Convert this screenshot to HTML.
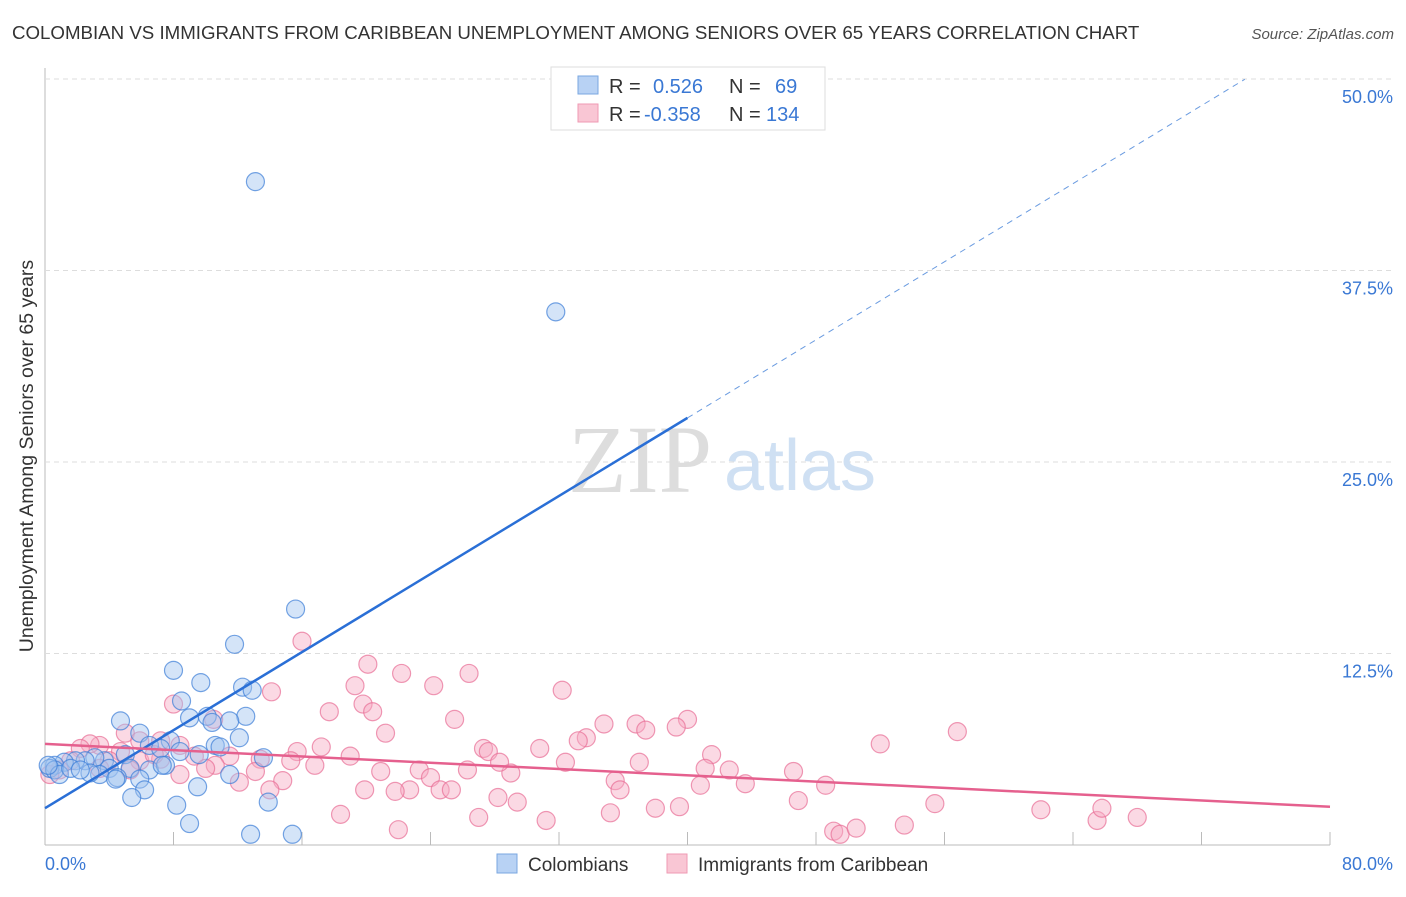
<!DOCTYPE html>
<html><head><meta charset="utf-8"><style>
body{margin:0;background:#fff;font-family:"Liberation Sans",sans-serif;}
</style></head><body>
<svg id="c" width="1406" height="892" xmlns="http://www.w3.org/2000/svg">
<text x="12" y="39" font-size="18.7" fill="#333">COLOMBIAN VS IMMIGRANTS FROM CARIBBEAN UNEMPLOYMENT AMONG SENIORS OVER 65 YEARS CORRELATION CHART</text>
<text x="1394" y="39" font-size="15" fill="#555" font-style="italic" text-anchor="end">Source: ZipAtlas.com</text>
<g id="grid"></g>
<text x="640" y="492" font-size="96" fill="#ddd" font-family="Liberation Serif" text-anchor="middle">ZIP</text>
<text x="800" y="490" font-size="72" fill="#cfe0f3" text-anchor="middle">atlas</text>
<g id="pts"></g>
<g id="lines"></g>
<text transform="translate(33,456) rotate(-90)" font-size="19.5" fill="#333" text-anchor="middle">Unemployment Among Seniors over 65 years</text>
<text x="45" y="870" font-size="18" fill="#3a78d4">0.0%</text>
<text x="1393" y="870" font-size="18" fill="#3a78d4" text-anchor="end">80.0%</text>
<g>
<rect x="551" y="67" width="274" height="63" fill="#fff" stroke="#ddd"/>
<rect x="578" y="76" width="20" height="18" fill="#b8d2f4" stroke="#7aa7e0"/>
<rect x="578" y="104" width="20" height="18" fill="#f9c6d4" stroke="#ef9ab3"/>
<text x="609" y="93" font-size="20" fill="#333">R = <tspan fill="#3a78d4" x="653">0.526</tspan><tspan x="729" fill="#333">N =</tspan><tspan x="775" fill="#3a78d4">69</tspan></text>
<text x="609" y="121" font-size="20" fill="#333">R = <tspan fill="#3a78d4" x="644">-0.358</tspan><tspan x="729" fill="#333">N =</tspan><tspan x="766" fill="#3a78d4">134</tspan></text>
</g>
<g>
<rect x="497" y="854" width="20" height="19" fill="#b8d2f4" stroke="#7aa7e0"/>
<text x="528" y="871" font-size="19" fill="#333">Colombians</text>
<rect x="667" y="854" width="20" height="19" fill="#f9c6d4" stroke="#ef9ab3"/>
<text x="698" y="871" font-size="19" fill="#333">Immigrants from Caribbean</text>
</g>
</svg>
<script>
const yTicks=[12.5,25,37.5,50];
const yTickLabels=["12.5%","25.0%","37.5%","50.0%"];
const xTicks=[0,8,16,24,32,40,48,56,64,72,80];
const blueX=[13.1,31.8,15.6,11.8,8.0,9.7,8.5,12.3,12.9,9.0,10.1,12.5,4.7,11.5,5.9,10.4,7.8,12.1,13.6,10.6,10.9,6.5,7.2,8.4,9.6,5.0,3.7,3.1,2.5,1.9,1.2,0.6,0.3,4.0,5.3,6.5,7.5,3.4,2.8,4.5,5.9,11.5,9.5,4.4,6.2,5.4,8.2,13.9,9.0,12.8,15.4,0.6,0.9,0.2,1.6,2.2,7.3];
const blueY=[43.3,34.8,15.4,13.1,11.4,10.6,9.4,10.3,10.1,8.3,8.4,8.4,8.1,8.1,7.3,8.0,6.8,7.0,5.7,6.5,6.4,6.5,6.3,6.1,5.9,5.9,5.5,5.7,5.5,5.5,5.4,5.2,5.0,5.0,5.0,4.9,5.2,4.6,4.7,4.4,4.3,4.6,3.8,4.3,3.6,3.1,2.6,2.8,1.4,0.7,0.7,4.9,4.6,5.2,5.0,4.9,5.2];
const pinkX=[16.0,20.1,22.2,26.4,19.3,24.2,32.2,14.1,8.0,19.8,17.7,20.4,40.0,25.5,34.8,36.8,39.3,10.5,21.2,37.4,56.8,52.0,30.8,27.3,27.6,41.5,33.7,33.2,32.4,37.0,17.2,15.7,19.0,8.4,7.2,5.0,3.4,5.9,9.3,11.5,13.4,15.3,16.8,20.9,23.3,24.0,26.3,29.0,28.3,41.1,42.6,46.6,48.6,43.6,40.8,35.5,35.8,38.0,39.5,35.2,28.2,29.4,24.6,25.3,22.7,21.8,19.9,14.8,14.0,12.1,13.1,10.6,10.0,8.4,18.4,27.0,31.2,22.0,49.1,49.5,50.5,53.5,55.4,62.0,65.5,65.8,68.0,46.9,7.2,5.9,4.7,2.8,2.2,1.6,0.9,0.3,4.0,5.3,3.4,6.8];
const pinkY=[13.3,11.8,11.2,11.2,10.4,10.4,10.1,10.0,9.2,9.2,8.7,8.7,8.2,8.2,7.9,7.9,7.7,8.2,7.3,7.5,7.4,6.6,6.3,6.3,6.1,5.9,7.0,6.8,5.4,5.4,6.4,6.1,5.8,6.5,6.8,7.3,6.5,6.8,5.8,5.8,5.6,5.5,5.2,4.8,4.9,4.4,4.9,4.7,5.4,5.0,4.9,4.8,3.9,4.0,3.9,4.2,3.6,2.4,2.5,2.1,3.1,2.8,3.6,3.6,3.6,3.5,3.6,4.2,3.6,4.1,4.8,5.2,5.0,4.6,2.0,1.8,1.6,1.0,0.9,0.7,1.1,1.3,2.7,2.3,1.6,2.4,1.8,2.9,5.6,5.5,6.1,6.6,6.3,5.5,4.9,4.6,5.5,4.9,5.0,5.9];
const X=v=>45+v/80*1285, Y=v=>845-v/50*766;
const NS='http://www.w3.org/2000/svg';
function mk(tag,attrs,parent){const e=document.createElementNS(NS,tag);for(const k in attrs)e.setAttribute(k,attrs[k]);document.getElementById(parent).appendChild(e);return e;}
let a=mk('line',{x1:45,y1:68,x2:45,y2:845,stroke:'#bbb'},'grid');


let b=mk('line',{x1:45,y1:845,x2:1330,y2:845,stroke:'#bbb'},'grid');


xTicks.forEach(t=>{const e=mk('line',{x1:X(t),y1:832,x2:X(t),y2:845,stroke:'#bbb'},'grid');

});
yTicks.forEach((t,i)=>{const g=mk('line',{x1:45,y1:Y(t),x2:1392,y2:Y(t),stroke:'#ddd','stroke-dasharray':'5,4'},'grid');


const l=mk('text',{x:1393,y:Y(t)+24,'font-size':18,fill:'#3a78d4','text-anchor':'end'},'grid');l.textContent=yTickLabels[i];

});
pinkX.forEach((v,i)=>{const c=mk('circle',{cx:X(v),cy:Y(pinkY[i]),r:9,fill:'rgba(246,170,195,0.45)',stroke:'rgba(232,110,150,0.7)','stroke-width':1.2},'pts');

});
blueX.forEach((v,i)=>{const c=mk('circle',{cx:X(v),cy:Y(blueY[i]),r:9,fill:'rgba(160,195,240,0.45)',stroke:'rgba(60,125,215,0.7)','stroke-width':1.2},'pts');

});
const bl=v=>2.4+v*0.637, pl=v=>6.6-v*0.0513;
let l1=mk('line',{x1:X(0),y1:Y(bl(0)),x2:X(40),y2:Y(bl(40)),stroke:'#2a6fd6','stroke-width':2.5},'lines');


let l2=mk('line',{x1:X(40),y1:Y(bl(40)),x2:X(74.7),y2:Y(bl(74.7)),stroke:'#6a9be0','stroke-width':1,'stroke-dasharray':'6,5'},'lines');


let l3=mk('line',{x1:X(0),y1:Y(pl(0)),x2:X(80),y2:Y(pl(80)),stroke:'#e5608e','stroke-width':2.5},'lines');


</script>
</body></html>
